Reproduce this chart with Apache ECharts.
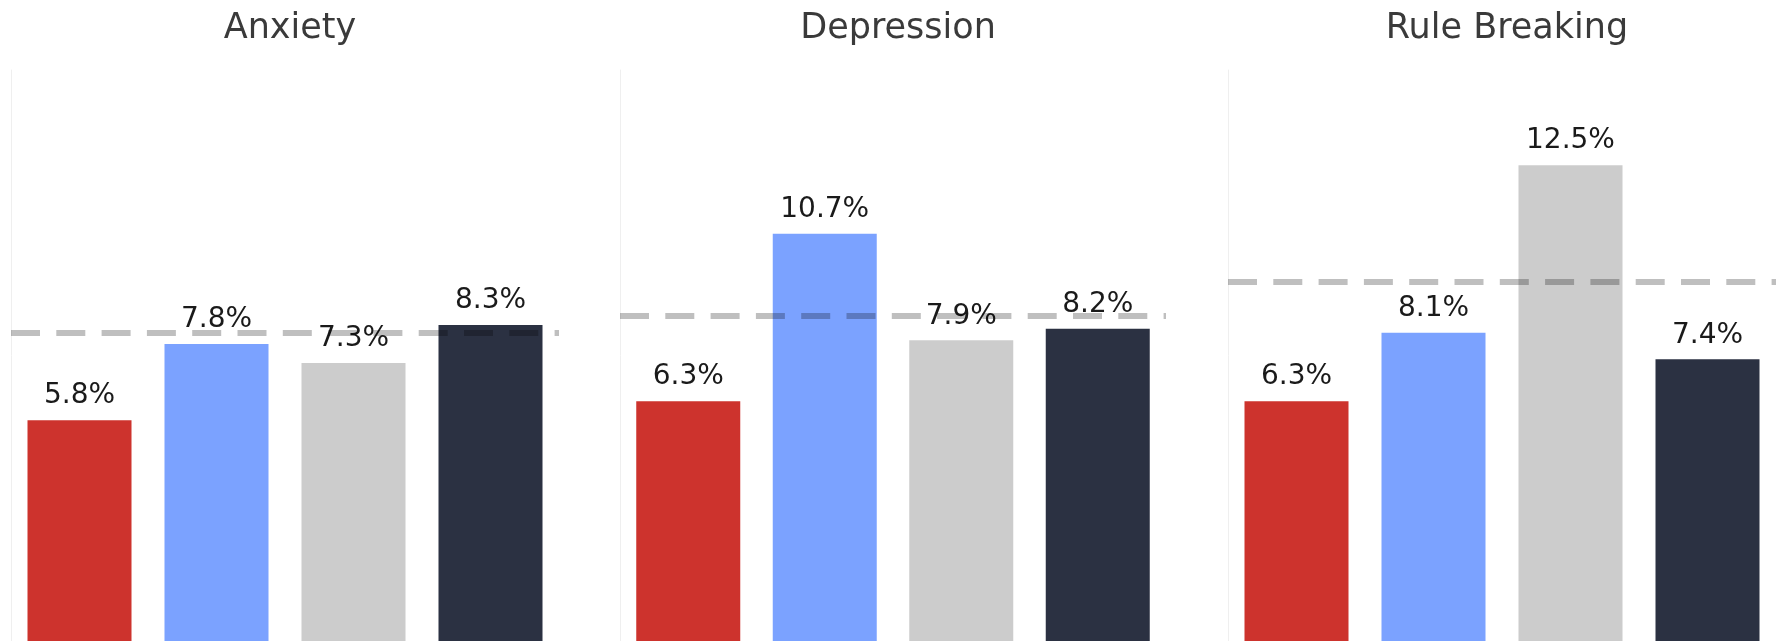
<!DOCTYPE html>
<html>
<head>
<meta charset="utf-8">
<script src="https://cdn.jsdelivr.net/npm/echarts@6/dist/echarts.min.js"></script>
<style>
  html, body { margin: 0; padding: 0; background: #ffffff; }
  #chart { width: 1778px; height: 641px; }
</style>
</head>
<body>
<div id="chart"></div>
<script>
// Panel titles and the four groups compared inside each panel
const panelTitles = ['Anxiety', 'Depression', 'Rule Breaking'];
const groups = ['Group 1', 'Group 2', 'Group 3', 'Group 4'];

// Share of each group (%) per measure
const anxietyValues = [5.8, 7.8, 7.3, 8.3];
const depressionValues = [6.3, 10.7, 7.9, 8.2];
const ruleBreakingValues = [6.3, 8.1, 12.5, 7.4];

// Overall reference level (%) drawn as a dashed line in each panel
const referenceValues = [8.1, 8.55, 9.44];

// Group colours
const groupColors = ['#CD332D', '#7BA2FF', '#CCCCCC', '#2B3142'];

const panelValues = [anxietyValues, depressionValues, ruleBreakingValues];

// Horizontal placement of the three panels
const panelLayout = [
  { left: 11, width: 548 },
  { left: 620, width: 546 },
  { left: 1228, width: 548 }
];

const FONT = '"DejaVu Sans", "Liberation Sans", sans-serif';

const grids = panelLayout.map(p => ({
  left: p.left, width: p.width, top: 70, bottom: 0, containLabel: false
}));

const xAxes = panelLayout.map((p, i) => ({
  type: 'category',
  gridIndex: i,
  data: groups,
  axisLine: { show: false },
  axisTick: { show: false },
  axisLabel: { show: false }
}));

const yAxes = panelLayout.map((p, i) => ({
  type: 'value',
  gridIndex: i,
  min: 0,
  max: 15,
  axisLine: { show: true, lineStyle: { color: '#efefef', width: 1 } },
  axisTick: { show: false },
  axisLabel: { show: false },
  splitLine: { show: false }
}));

const titles = panelLayout.map((p, i) => ({
  text: panelTitles[i],
  left: p.left + p.width / 2,
  textAlign: 'center',
  top: 6,
  textStyle: {
    fontFamily: FONT,
    fontSize: 35,
    fontWeight: 'normal',
    color: '#3a3a3a'
  }
}));

const series = panelValues.map((vals, i) => ({
  type: 'bar',
  xAxisIndex: i,
  yAxisIndex: i,
  barWidth: 104,
  data: vals.map((v, j) => ({ value: v, itemStyle: { color: groupColors[j] } })),
  label: {
    show: true,
    position: 'top',
    distance: 10,
    fontFamily: FONT,
    fontSize: 28,
    color: '#1a1a1a',
    formatter: p => p.value.toFixed(1) + '%'
  },
  markLine: {
    silent: true,
    symbol: 'none',
    label: { show: false },
    lineStyle: {
      type: [29, 16.3],
      width: 6,
      color: 'rgba(0,0,0,0.25)'
    },
    data: [{ yAxis: referenceValues[i] }]
  }
}));

const chart = echarts.init(document.getElementById('chart'), null, { renderer: 'canvas' });
chart.setOption({
  animation: false,
  backgroundColor: '#ffffff',
  title: titles,
  grid: grids,
  xAxis: xAxes,
  yAxis: yAxes,
  series: series
});
</script>
</body>
</html>
